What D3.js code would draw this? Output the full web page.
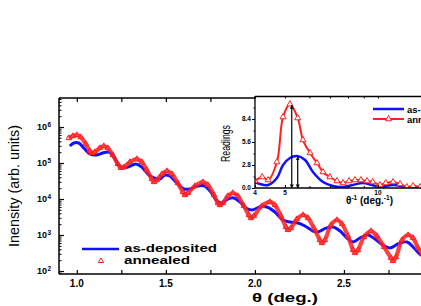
<!DOCTYPE html>
<html><head><meta charset="utf-8">
<script src="https://cdn.jsdelivr.net/npm/d3@7"></script>
<style>
html,body{margin:0;padding:0;background:#fff;overflow:hidden;}
svg{display:block;}
</style></head>
<body>
<svg id="c" width="421" height="306"></svg>
<script>
// ---------- Main chart data ----------
const thetaAnnealed = [0.955,0.978,1.000,1.022,1.051,1.073,1.084,1.101,1.129,1.152,1.174,1.202,1.230,1.247,1.264,1.298,1.337,1.365,1.393,1.421,1.433,1.449,1.478,1.506,1.534,1.567,1.596,1.607,1.624,1.663,1.708,1.736,1.770,1.792,1.803,1.820,1.848,1.876,1.904,1.938,1.966,1.978,1.994,2.039,2.084,2.112,2.146,2.174,2.185,2.202,2.236,2.270,2.298,2.331,2.365,2.376,2.393,2.427,2.461,2.489,2.522,2.551,2.562,2.579,2.612,2.652,2.685,2.725,2.764,2.775,2.792,2.826,2.860,2.888,2.916,2.955,2.983];
const annealed = [4.94e5,5.62e5,6.0e5,5.27e5,3.37e5,2.15e5,1.90e5,2.02e5,2.61e5,2.96e5,2.61e5,1.67e5,9.4e4,7.3e4,7.7e4,1.07e5,1.29e5,1.07e5,6.4e4,3.6e4,2.96e4,3.37e4,4.94e4,6.0e4,4.94e4,2.78e4,1.56e4,1.29e4,1.47e4,2.30e4,2.96e4,2.45e4,1.29e4,7.7e3,6.8e3,7.7e3,1.21e4,1.47e4,1.21e4,6.4e3,3.6e3,2.96e3,3.37e3,6.4e3,8.3e3,6.8e3,3.37e3,1.67e3,1.38e3,1.56e3,2.78e3,3.6e3,2.96e3,1.56e3,726,600,726,1.90e3,2.61e3,2.02e3,938,383,316,383,879,1.29e3,938,465,230,190,245,726,1.0e3,826,436,230,178];

const thetaAsDeposited = [0.961,0.983,1.011,1.039,1.073,1.112,1.146,1.180,1.208,1.236,1.258,1.287,1.331,1.365,1.399,1.433,1.466,1.494,1.522,1.562,1.601,1.635,1.680,1.719,1.753,1.787,1.815,1.848,1.882,1.916,1.949,1.983,2.028,2.067,2.112,2.157,2.197,2.242,2.281,2.326,2.354,2.399,2.438,2.478,2.517,2.551,2.590,2.635,2.674,2.719,2.758,2.803,2.854,2.893,2.933,2.983];
const asDeposited = [2.96e5,3.6e5,3.6e5,2.61e5,1.78e5,1.67e5,1.90e5,2.02e5,1.47e5,8.8e4,7.3e4,7.7e4,9.4e4,7.7e4,4.94e4,3.83e4,3.6e4,4.64e4,4.36e4,2.78e4,1.90e4,1.90e4,2.30e4,2.30e4,1.56e4,8.8e3,7.7e3,1.0e4,1.07e4,8.3e3,5.6e3,4.94e3,6.0e3,6.0e3,4.36e3,2.61e3,2.30e3,2.15e3,1.78e3,1.29e3,1.21e3,1.56e3,1.67e3,1.29e3,826,640,826,1.0e3,774,527,436,562,640,436,278,230];

const xTickLabels = [1.0, 1.5, 2.0, 2.5];
const xTickAll = [1.0,1.25,1.5,1.75,2.0,2.25,2.5,2.75,3.0];
const yTickExponents = [2, 3, 4, 5, 6];

// ---------- Inset data ----------
const insetXAnnealed = [4.00,4.22,4.41,4.71,4.93,5.19,5.50,5.72,6.03,6.35,6.64,6.99,7.37,7.71,8.06,8.43,8.81,9.22,9.62,10.15,10.6,11.19,11.8,12.4,13.0,13.7];
const insetAnnealed  = [0.85,1.34,0.97,3.16,8.64,10.2,8.52,5.84,4.26,3.04,1.95,1.34,0.85,0.61,0.85,0.97,0.97,0.85,0.73,0.37,0.61,0.73,0.49,0.12,0.24,0.12];
const insetXAsDeposited = [4.00,4.15,4.41,4.71,4.93,5.19,5.47,5.81,6.16,6.64,7.15,7.71,8.30,8.94,9.56,10.15,11.19,12.4,13.7];
const insetAsDeposited  = [0.73,0.49,0.37,1.22,2.80,3.65,3.90,3.41,1.95,0.73,0.24,0.12,0.37,0.61,0.37,0.12,0.37,0.12,0.0];
const insetYTicks = [0.0, 2.8, 5.6, 8.4];
const insetYMinor = [1.4, 4.2, 7.0, 9.8];
const insetXTicks = [4, 5, 10];
const insetXMinor = [6, 7, 8, 9, 15];
const peakX = [5.26, 5.50];
const peakY = [10.1, 3.8];

// ---------- Drawing ----------
const svg = d3.select("#c");
const BLUE = "#1010ff", RED = "#ff2020";
const FONT = "'Liberation Sans', Arial, sans-serif";
const NARROW = "'Liberation Sans Narrow', 'Arial Narrow', 'Liberation Sans', sans-serif";

const x = d3.scaleLinear().domain([0.9, 3.0]).range([59, 433]);
const y = d3.scaleLog().domain([82.6, 6.4e6]).range([274, 98]);

const defs = svg.append("defs");
defs.append("clipPath").attr("id","mainClip").append("rect")
  .attr("x",59).attr("y",98).attr("width",380).attr("height",176);

// frame lines
const frame = svg.append("g").attr("stroke","#000").attr("stroke-width",1.5);
frame.append("line").attr("x1",59).attr("x2",59).attr("y1",98).attr("y2",274);
frame.append("line").attr("x1",59).attr("x2",440).attr("y1",274).attr("y2",274);
frame.append("line").attr("x1",59).attr("x2",440).attr("y1",98).attr("y2",98);

// bottom/top axis ticks (inward)
const gxb = svg.append("g").attr("transform","translate(0,274)")
  .call(d3.axisBottom(x).tickValues(xTickAll).tickSize(-4).tickFormat(""));
gxb.select(".domain").remove();
const gxt = svg.append("g").attr("transform","translate(0,98)")
  .call(d3.axisTop(x).tickValues(xTickAll).tickSize(-4).tickFormat(""));
gxt.select(".domain").remove();
svg.selectAll(".tick line").attr("stroke-width",1.2);

svg.append("g").selectAll("text").data(xTickLabels).join("text")
  .attr("x", d => x(d)).attr("y", 287)
  .attr("text-anchor","middle").attr("font-family",FONT).attr("font-weight","bold")
  .attr("font-size",10).text(d => d.toFixed(1));

// y axis ticks
const yMinor = [];
for (let e = 1; e <= 6; e++) for (let m = 2; m <= 9; m++) {
  const v = m * Math.pow(10, e);
  if (v >= 82.6 && v <= 6.4e6) yMinor.push(v);
}
const gyMinor = svg.append("g").attr("transform","translate(59,0)")
  .call(d3.axisLeft(y).tickValues(yMinor).tickSize(-2.5).tickFormat(""));
gyMinor.select(".domain").remove();
gyMinor.selectAll(".tick line").attr("stroke-width",1);
const gyMajor = svg.append("g").attr("transform","translate(59,0)")
  .call(d3.axisLeft(y).tickValues(yTickExponents.map(e => Math.pow(10, e))).tickSize(-5).tickFormat(""));
gyMajor.select(".domain").remove();
gyMajor.selectAll(".tick line").attr("stroke-width",1.2);

svg.append("g").selectAll("text").data(yTickExponents).join("text")
  .attr("x", 47).attr("y", d => y(Math.pow(10, d)) + 3)
  .attr("text-anchor","end").attr("font-family",FONT).attr("font-weight","bold")
  .attr("font-size",9).text("10");
svg.append("g").selectAll("text").data(yTickExponents).join("text")
  .attr("x", 47.5).attr("y", d => y(Math.pow(10, d)) - 0.5)
  .attr("font-family",FONT).attr("font-weight","bold")
  .attr("font-size",6.5).text(d => d);

// axis titles
svg.append("text").attr("transform","translate(19,186) rotate(-90)")
  .attr("text-anchor","middle").attr("font-family",NARROW).attr("font-size",14.5)
  .attr("textLength",122).attr("lengthAdjust","spacingAndGlyphs")
  .text("Inensity (arb. units)");
svg.append("text").attr("x",252).attr("y",302)
  .attr("font-family",FONT).attr("font-weight","bold").attr("font-size",13)
  .attr("textLength",66).attr("lengthAdjust","spacingAndGlyphs")
  .text("θ (deg.)");

// data
const plot = svg.append("g").attr("clip-path","url(#mainClip)");
const annData = thetaAnnealed.map((t,i) => [t, annealed[i]]);
const asdData = thetaAsDeposited.map((t,i) => [t, asDeposited[i]]);
const lineMain = d3.line().x(d => x(d[0])).y(d => y(d[1])).curve(d3.curveCatmullRom.alpha(0.5));

plot.append("path").datum(asdData).attr("d", lineMain)
  .attr("fill","none").attr("stroke",BLUE).attr("stroke-width",3);
plot.append("path").datum(annData).attr("d", lineMain)
  .attr("fill","none").attr("stroke",RED).attr("stroke-width",4.2).attr("stroke-opacity",0.85);
const tri = d3.symbol().type(d3.symbolTriangle).size(13);
plot.append("g").selectAll("path").data(annData).join("path")
  .attr("d", tri).attr("transform", d => `translate(${x(d[0])},${y(d[1])})`)
  .attr("fill","none").attr("stroke",RED).attr("stroke-width",1);

// main legend
svg.append("line").attr("x1",82).attr("x2",119).attr("y1",249).attr("y2",249)
  .attr("stroke",BLUE).attr("stroke-width",2.5);
svg.append("path").attr("d", d3.symbol().type(d3.symbolTriangle).size(12))
  .attr("transform","translate(101,261)").attr("fill","none").attr("stroke",RED).attr("stroke-width",1);
svg.append("text").attr("x",124).attr("y",252).attr("font-family",FONT).attr("font-weight","bold")
  .attr("font-size",11).attr("textLength",93).attr("lengthAdjust","spacingAndGlyphs").text("as-deposited");
svg.append("text").attr("x",124).attr("y",264).attr("font-family",FONT).attr("font-weight","bold")
  .attr("font-size",11).attr("textLength",66).attr("lengthAdjust","spacingAndGlyphs").text("annealed");

// ---------- Inset ----------
const ix = d3.scaleLog().domain([4, 16]).range([255, 441]);
const iy = d3.scaleLinear().domain([0, 11.2]).range([188, 96]);
svg.append("rect").attr("x",255).attr("y",96).attr("width",170).attr("height",92).attr("fill","#fff");

defs.append("clipPath").attr("id","insetClip").append("rect")
  .attr("x",255).attr("y",96).attr("width",170).attr("height",92);
const ip = svg.append("g").attr("clip-path","url(#insetClip)");
const insetLine = d3.line().x(d => ix(d[0])).y(d => iy(d[1])).curve(d3.curveCatmullRom.alpha(0.5));
const iAnn = insetXAnnealed.map((v,i) => [v, insetAnnealed[i]]);
const iAsd = insetXAsDeposited.map((v,i) => [v, insetAsDeposited[i]]);
ip.append("path").datum(iAsd).attr("d", insetLine).attr("fill","none").attr("stroke",BLUE).attr("stroke-width",2.5);
ip.append("path").datum(iAnn).attr("d", insetLine).attr("fill","none").attr("stroke",RED).attr("stroke-width",2);
const triI = d3.symbol().type(d3.symbolTriangle).size(16);
ip.append("g").selectAll("path").data(iAnn).join("path")
  .attr("d", triI).attr("transform", d => `translate(${ix(d[0])},${iy(d[1])})`)
  .attr("fill","#fff").attr("stroke",RED).attr("stroke-width",1);

// arrows
const am = defs.append("marker").attr("id","ah").attr("viewBox","0 0 10 10")
  .attr("refX",9).attr("refY",5).attr("markerWidth",4).attr("markerHeight",5)
  .attr("orient","auto-start-reverse").attr("markerUnits","userSpaceOnUse");
am.append("path").attr("d","M0,0 L10,5 L0,10 Z").attr("fill","#000");
svg.append("g").selectAll("line").data(peakX).join("line")
  .attr("x1", d => ix(d)).attr("x2", d => ix(d))
  .attr("y1", (d,i) => iy(peakY[i])).attr("y2", iy(0))
  .attr("stroke","#000").attr("stroke-width",1.2)
  .attr("marker-start","url(#ah)").attr("marker-end","url(#ah)");

// inset axes
const ia = svg.append("g").attr("stroke","#000").attr("stroke-width",1.3);
ia.append("line").attr("x1",255).attr("x2",255).attr("y1",96).attr("y2",188);
ia.append("line").attr("x1",255).attr("x2",425).attr("y1",188).attr("y2",188);
ia.append("line").attr("x1",255).attr("x2",425).attr("y1",96.5).attr("y2",96.5);

const giy = svg.append("g").attr("transform","translate(255,0)")
  .call(d3.axisLeft(iy).tickValues(insetYTicks).tickSize(3).tickFormat(""));
giy.select(".domain").remove();
const giy2 = svg.append("g").attr("transform","translate(255,0)")
  .call(d3.axisLeft(iy).tickValues(insetYMinor).tickSize(1.5).tickFormat(""));
giy2.select(".domain").remove();
const gix = svg.append("g").attr("transform","translate(0,188)")
  .call(d3.axisBottom(ix).tickValues(insetXTicks).tickSize(-3).tickFormat(""));
gix.select(".domain").remove();
const gix2 = svg.append("g").attr("transform","translate(0,188)")
  .call(d3.axisBottom(ix).tickValues(insetXMinor).tickSize(-2).tickFormat(""));
gix2.select(".domain").remove();
const gixT = svg.append("g").attr("transform","translate(0,96.5)")
  .call(d3.axisTop(ix).tickValues(insetXTicks.concat(insetXMinor)).tickSize(-2).tickFormat(""));
gixT.select(".domain").remove();

svg.append("g").selectAll("text").data(insetYTicks).join("text")
  .attr("x",251).attr("y", d => iy(d) + 2.2).attr("text-anchor","end")
  .attr("font-family",FONT).attr("font-weight","bold").attr("font-size",6.5)
  .text(d => d.toFixed(1));
svg.append("g").selectAll("text").data(insetXTicks).join("text")
  .attr("x", d => ix(d)).attr("y", 195).attr("text-anchor","middle")
  .attr("font-family",FONT).attr("font-weight","bold").attr("font-size",6.5)
  .text(d => d);

svg.append("text").attr("transform","translate(230,143.5) rotate(-90)")
  .attr("text-anchor","middle").attr("font-family",NARROW).attr("font-size",12)
  .attr("textLength",37).attr("lengthAdjust","spacingAndGlyphs").text("Readings");

const ixl = svg.append("text").attr("x",346).attr("y",204)
  .attr("font-family",FONT).attr("font-weight","bold").attr("font-size",10);
ixl.append("tspan").text("θ");
ixl.append("tspan").attr("font-size",6.5).attr("dy",-4).text("-1");
ixl.append("tspan").attr("dy",4).text(" (deg.");
ixl.append("tspan").attr("font-size",6.5).attr("dy",-4).text("-1");
ixl.append("tspan").attr("dy",4).text(")");

// inset legend (cut at the right edge, as in the reference)
svg.append("line").attr("x1",373).attr("x2",404).attr("y1",109).attr("y2",109).attr("stroke",BLUE).attr("stroke-width",2.5);
svg.append("line").attr("x1",373).attr("x2",404).attr("y1",119).attr("y2",119).attr("stroke",RED).attr("stroke-width",2);
svg.append("path").attr("d", triI).attr("transform","translate(388.5,119)")
  .attr("fill","#fff").attr("stroke",RED).attr("stroke-width",1);
svg.append("text").attr("x",407).attr("y",112.5).attr("font-family",FONT).attr("font-weight","bold")
  .attr("font-size",9.5).text("as-deposited");
svg.append("text").attr("x",407).attr("y",122.5).attr("font-family",FONT).attr("font-weight","bold")
  .attr("font-size",9.5).text("annealed");
</script>
</body></html>
